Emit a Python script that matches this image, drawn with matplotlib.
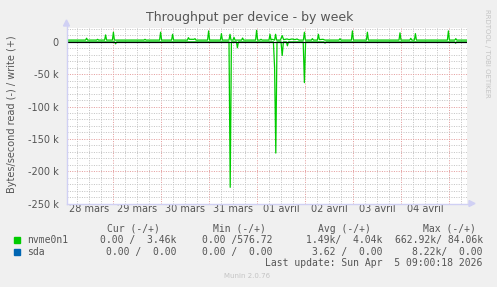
import numpy as np
import matplotlib
matplotlib.use("Agg")
import matplotlib.pyplot as plt
from matplotlib.ticker import FixedLocator, MultipleLocator, FuncFormatter

# time axis in hours from 28 mars 00:00, values in kB/s
write_hours = [1, 10.3, 10.8, 11.3, 15.8, 16.3, 16.8, 19.8, 20.3, 20.8, 23.7, 24.2, 24.7,
               39.5, 40, 40.5, 47.3, 47.8, 48.3, 53.3, 53.8, 54.3, 61.2, 61.7, 62.2, 64.5,
               65, 65.5, 71.3, 71.8, 72.3, 77.7, 78.2, 78.7, 82, 82.5, 83, 84, 84.5, 85,
               88.3, 88.8, 89.3, 95.3, 95.8, 96.3, 97.5, 98, 98.5, 102, 102.5, 103, 103.5,
               104.8, 105.3, 105.8, 107.7, 108.6, 109.3, 111, 112, 113.5, 115, 116, 117,
               119.2, 119.7, 120.2, 123.2, 123.7, 124.2, 126.2, 126.7, 127.2, 129, 130,
               137, 137.5, 138, 143.2, 143.7, 144.2, 150.7, 151.2, 151.7, 167, 167.5, 168,
               172.4, 172.9, 173.4, 174.7, 175.2, 175.7, 191.2, 191.7, 192.2, 194.9, 195.4,
               195.9, 201]
write_k = [2.8, 2.8, 5.7, 2.8, 2.8, 4.0, 2.8, 2.8, 10.8, 2.8, 2.8, 15, 2.8,
           2.8, 4, 2.8, 2.8, 15, 2.8, 2.8, 11.8, 2.8, 2.8, 6.6, 4, 4,
           5, 2.8, 2.8, 17, 2.8, 2.8, 12.8, 2.8, 2.8, 11.8, 2.8, 2.8, 7, 2.8,
           2.8, 6, 2.8, 2.8, 18, 2.8, 2.8, 4, 2.8, 2.8, 11.8, 2.8, 4,
           2.8, 11.8, 2.8, 2.8, 9.7, 3.5, 4.5, 3.5, 4.5, 3.5, 4.5, 2.8,
           2.8, 15, 2.8, 2.8, 5, 2.8, 2.8, 11.8, 3.5, 4, 2.8,
           2.8, 5, 2.8, 2.8, 17, 2.8, 2.8, 15, 2.8, 2.8, 14, 2.8,
           2.8, 5.5, 2.8, 2.8, 12.8, 2.8, 2.8, 17, 2.8, 2.8, 5,
           2.8, 2.8]

read_hours = [1, 24.8, 25.3, 25.8, 82.0, 82.6, 83.2, 85.7, 86.2, 86.7, 104.2, 104.8, 105.4,
              106.0, 108.0, 108.6, 109.2, 110.7, 111.2, 111.7, 119.1, 119.7, 120.3, 129.5,
              130, 130.5, 194.8, 195.3, 195.8, 201]
read_k = [0, 0, -3, 0, 0, -225, 0, 0, -9, 0, 0, -40, -172,
          0, 0, -21, 0, 0, -6, 0, 0, -63, 0, 0,
          -2, 0, 0, -2, 0, 0]

sda_hours = [1, 201]
sda_k = [0, 0]

day_labels = ["28 mars", "29 mars", "30 mars", "31 mars", "01 avril", "02 avril", "03 avril", "04 avril"]
ytick_vals = [0, -50, -100, -150, -200, -250]

legend_names = ["nvme0n1", "sda"]
legend_colors = ["#00CC00", "#0066B3"]
cur_txt = ["0.00 /  3.46k", "0.00 /  0.00"]
min_txt = ["0.00 /576.72", "0.00 /  0.00"]
avg_txt = ["1.49k/  4.04k", "3.62 /  0.00"]
max_txt = ["662.92k/ 84.06k", "8.22k/  0.00"]

W, H = 497, 287
fig = plt.figure(figsize=(W / 100, H / 100), dpi=100, facecolor="#F0F0F0")
ax = fig.add_axes([67 / W, 1 - 203.5 / H, 400 / W, 175.5 / H])
ax.set_facecolor("white")

ax.set_xlim(1, 201)
ax.set_ylim(-250, 21.5)

# grid
ax.xaxis.set_major_locator(MultipleLocator(24))
ax.xaxis.set_minor_locator(MultipleLocator(6))
ax.yaxis.set_major_locator(FixedLocator(ytick_vals))
ax.yaxis.set_minor_locator(MultipleLocator(10))
ax.grid(which="minor", color="#C4C4C4", linestyle=(0, (1, 1.4)), linewidth=0.72)
ax.grid(which="major", color="#E49C9C", linestyle=(0, (1, 1.4)), linewidth=0.72)
ax.set_axisbelow(True)
ax.tick_params(which="both", length=0)
ax.set_xticklabels([])
ax.yaxis.set_major_formatter(FuncFormatter(lambda v, p: "0" if v == 0 else "%d k" % v))
ax.tick_params(axis="y", labelsize=7, labelcolor="#555555", pad=6)

for s in ax.spines.values():
    s.set_visible(False)

# data lines
ax.plot(read_hours, read_k, color=legend_colors[0], lw=0.9)
ax.plot(sda_hours, sda_k, color=legend_colors[1], lw=0.8)
ax.axhline(0, color="black", lw=0.8)
ax.plot(write_hours, write_k, color=legend_colors[0], lw=0.9)

# day labels centered at noon
for i, lab in enumerate(day_labels):
    ax.text(12 + 24 * i, -259, lab, ha="center", va="center", fontsize=7, color="#555555")

# axis lines with arrows (figure coords)
ax_col = "#D0D0F4"
fig.add_artist(plt.Line2D([66.5 / W, 66.5 / W], [1 - 204 / H, 1 - 23 / H], color=ax_col, lw=1))
fig.add_artist(plt.Line2D([66.5 / W, 470 / W], [1 - 203.5 / H, 1 - 203.5 / H], color=ax_col, lw=1))
fig.add_artist(plt.Polygon([[63.5 / W, 1 - 26 / H], [69.5 / W, 1 - 26 / H], [66.5 / W, 1 - 20 / H]],
                           closed=True, color=ax_col, transform=fig.transFigure))
fig.add_artist(plt.Polygon([[469 / W, 1 - 200.5 / H], [469 / W, 1 - 206.5 / H], [475 / W, 1 - 203.5 / H]],
                           closed=True, color=ax_col, transform=fig.transFigure))

fig.text(250 / W, 1 - 18 / H, "Throughput per device - by week", ha="center", va="center",
         fontsize=9, color="#555555")
fig.text(12 / W, 1 - 114 / H, "Bytes/second read (-) / write (+)", ha="center", va="center",
         rotation=90, fontsize=7, color="#555555")
fig.text(487 / W, 1 - 53 / H, "RRDTOOL / TOBI OETIKER", ha="center", va="center",
         rotation=270, fontsize=5, color="#C4C4C4")

# legend block
mono = "DejaVu Sans Mono"
tc = "#555555"
hy = 1 - 228.5 / H
fig.text(107.3 / W, hy, "Cur (-/+)", fontsize=7, family=mono, color=tc, va="center")
fig.text(212.7 / W, hy, "Min (-/+)", fontsize=7, family=mono, color=tc, va="center")
fig.text(317.7 / W, hy, "Avg (-/+)", fontsize=7, family=mono, color=tc, va="center")
fig.text(422.7 / W, hy, "Max (-/+)", fontsize=7, family=mono, color=tc, va="center")
for i in range(2):
    y = 1 - (240 + 11.7 * i) / H
    fig.add_artist(plt.Rectangle((14 / W, y - 3 / H), 6 / W, 6 / H, color=legend_colors[i],
                                 transform=fig.transFigure))
    fig.text(26.7 / W, y, legend_names[i], fontsize=7, family=mono, color=tc, va="center")
    fig.text(176 / W, y, cur_txt[i], fontsize=7, family=mono, color=tc, va="center", ha="right")
    fig.text(272.5 / W, y, min_txt[i], fontsize=7, family=mono, color=tc, va="center", ha="right")
    fig.text(382 / W, y, avg_txt[i], fontsize=7, family=mono, color=tc, va="center", ha="right")
    fig.text(483 / W, y, max_txt[i], fontsize=7, family=mono, color=tc, va="center", ha="right")
fig.text(482.5 / W, 1 - 263.3 / H, "Last update: Sun Apr  5 09:00:18 2026", fontsize=7, family=mono,
         color=tc, va="center", ha="right")
fig.text(247 / W, 1 - 276.5 / H, "Munin 2.0.76", fontsize=5, color="#C4C4C4", va="center", ha="center")

fig.savefig("out.png", dpi=100, facecolor=fig.get_facecolor())
